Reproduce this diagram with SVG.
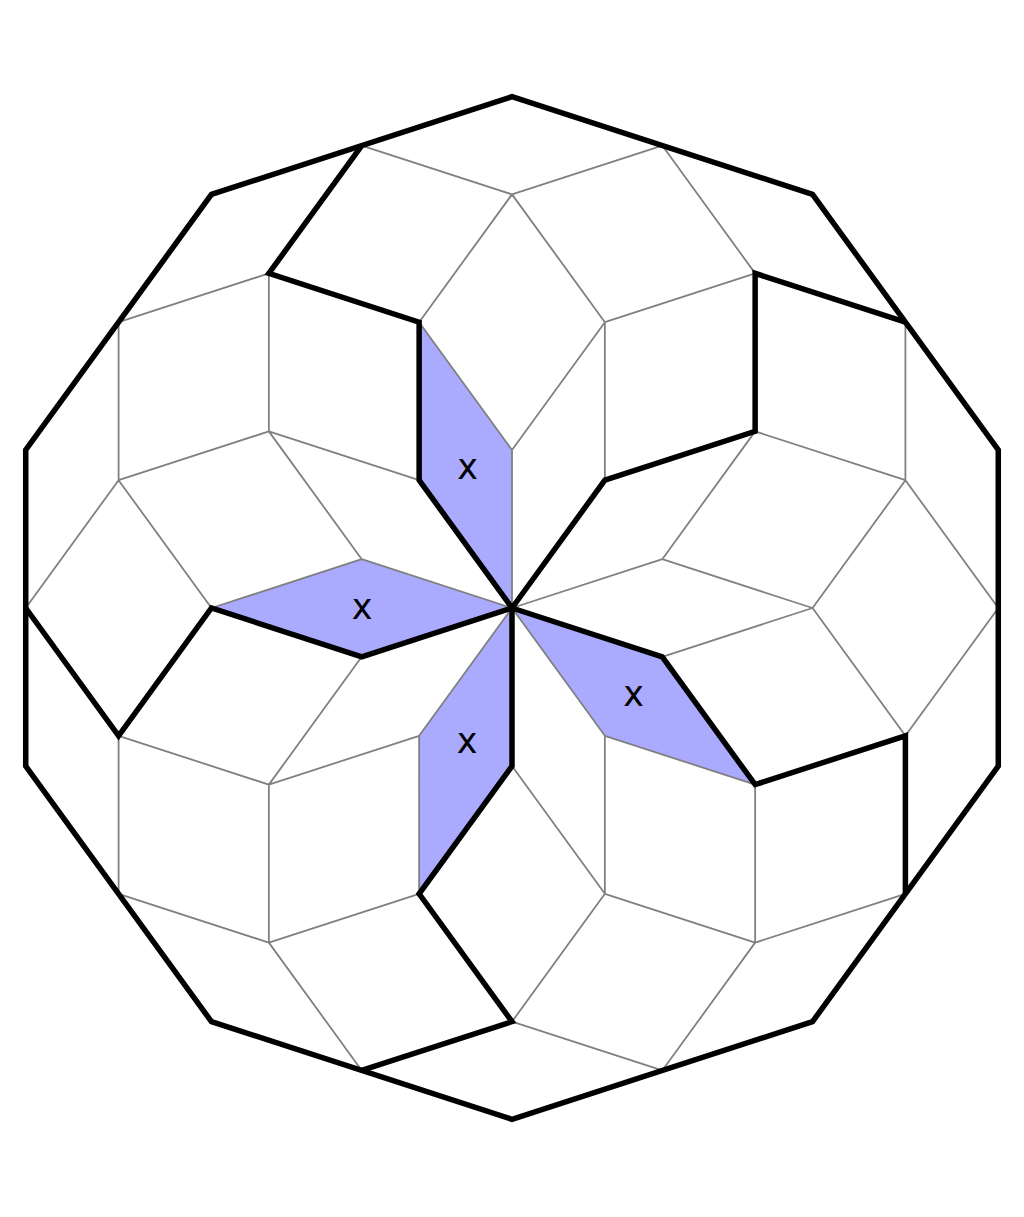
<svg xmlns="http://www.w3.org/2000/svg" width="1024" height="1217" viewBox="0 0 1024 1217">
<style>
.fill{fill:#aaaaff;stroke:none}
.thin{fill:none;stroke:#808080;stroke-width:1.8}
.thick{fill:none;stroke:#000;stroke-width:5.5;stroke-linejoin:miter;stroke-miterlimit:10}
.lbl{font-family:"DejaVu Sans",sans-serif;font-size:35px;fill:#000;text-anchor:middle}
</style>
<rect width="1024" height="1217" fill="#fff"/>
<g id="shaded-tiles">
<g id="tile-n"><polygon class="fill" points="419.13,322.18 512,450 512,608 419.13,480.18"/><text class="lbl" x="467.5" y="478.5">x</text></g>
<g id="tile-w"><polygon class="fill" points="211.46,608 361.73,559.18 512,608 361.73,656.82"/><text class="lbl" x="362" y="619">x</text></g>
<g id="tile-se"><polygon class="fill" points="512,608 662.27,656.82 755.14,784.64 604.87,735.82"/><text class="lbl" x="633.5" y="706">x</text></g>
<g id="tile-s"><polygon class="fill" points="512,608 512,766 419.13,893.82 419.13,735.82"/><text class="lbl" x="467" y="752.5">x</text></g>
</g>
<g id="connectors">
<path class="thin" d="M361.73,145.53L512,194.35M662.27,145.53L512,194.35M512,194.35L419.13,322.18M512,194.35L604.87,322.18M419.13,322.18L512,450M604.87,322.18L512,450M604.87,322.18L755.14,273.36M604.87,322.18L604.87,480.18M512,450L512,608M662.27,145.53L755.14,273.36M118.59,322.18L268.86,273.36M268.86,273.36L268.86,431.36M118.59,322.18L118.59,480.18M268.86,431.36L419.13,480.18M268.86,431.36L118.59,480.18M268.86,431.36L361.73,559.18M118.59,480.18L25.72,608M118.59,480.18L211.46,608M361.73,559.18L512,608M361.73,559.18L211.46,608M905.41,322.18L905.41,480.18M755.14,431.36L905.41,480.18M755.14,431.36L662.27,559.18M905.41,480.18L812.54,608M905.41,480.18L998.28,608M662.27,559.18L512,608M662.27,559.18L812.54,608M812.54,608L662.27,656.82M812.54,608L905.41,735.82M998.28,608L905.41,735.82M755.14,784.64L755.14,942.64M905.41,893.83L755.14,942.64M755.14,942.64L662.27,1070.48M755.14,942.64L604.87,893.82M604.87,893.82L604.87,735.82M604.87,735.82L512,608M604.87,735.82L755.14,784.64M604.87,893.82L512,766M604.87,893.82L512,1021.64M512,1021.64L662.27,1070.48M361.73,656.82L268.86,784.64M268.86,784.64L118.59,735.82M268.86,784.64L419.13,735.82M419.13,735.82L512,608M419.13,735.82L419.13,893.82M118.59,735.82L118.59,893.83M118.59,893.83L268.86,942.64M268.86,784.64L268.86,942.64M268.86,942.64L419.13,893.82M268.86,942.64L361.73,1070.48"/>
<polygon id="outline" class="thick" points="512,96.7 812.53,194.35 998.28,450 998.28,766 812.53,1021.65 512,1119.3 211.47,1021.65 25.72,766 25.72,450 211.47,194.35"/>
<path id="arm1" class="thick" d="M361.73,145.53L268.86,273.36L419.13,322.18L419.13,480.18L512,608"/>
<path id="arm2" class="thick" d="M512,608L604.87,480.18L755.14,431.36L755.14,273.36L905.41,322.18"/>
<path id="arm3" class="thick" d="M512,608L662.27,656.82L755.14,784.64L905.41,735.82L905.41,893.83"/>
<path id="arm4" class="thick" d="M512,608L512,766L419.13,893.82L512,1021.64L361.73,1070.48"/>
<path id="arm5" class="thick" d="M512,608L361.73,656.82L211.46,608L118.59,735.82L25.72,608"/>
</g>
</svg>
